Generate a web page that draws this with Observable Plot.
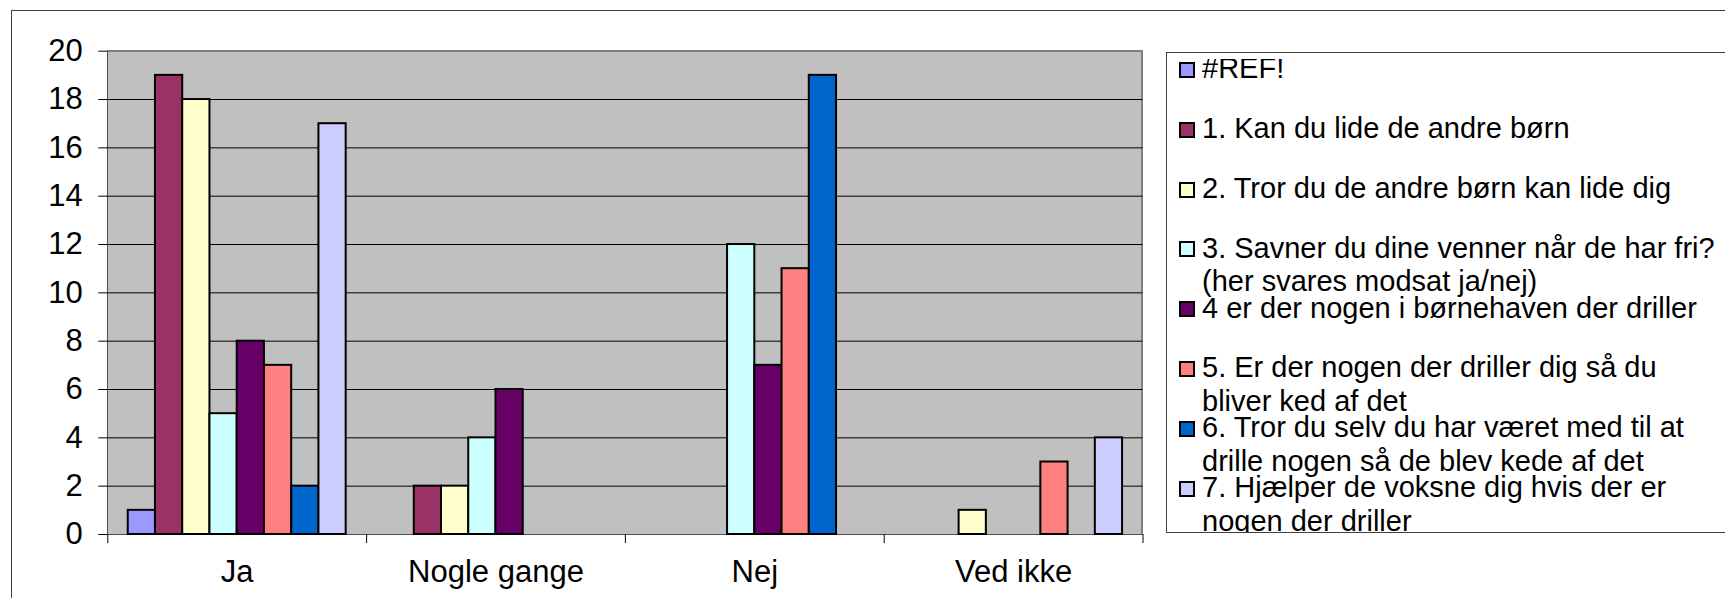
<!DOCTYPE html>
<html>
<head>
<meta charset="utf-8">
<script src="https://cdn.jsdelivr.net/npm/d3@7"></script>
<script src="https://cdn.jsdelivr.net/npm/@observablehq/plot@0.6"></script>
<style>
  html, body { margin: 0; padding: 0; background: #fff; }
  body { width: 1725px; height: 598px; overflow: hidden; position: relative;
         font-family: 'Liberation Sans', Arial, sans-serif; color: #000; }
  #outer { position: absolute; left: 11px; top: 10px; width: 1800px; height: 700px;
           border: 1px solid #404040; }
  #plotbg { position: absolute; background: #c0c0c0; box-sizing: border-box;
            border-top: 2px solid #808080; border-right: 2px solid #808080;
            border-left: 1.5px solid #505050; border-bottom: 1.5px solid #505050; }
  #chart { position: absolute; left: 0; top: 0; }
  #legend { position: absolute; left: 1166px; top: 52px; width: 700px; height: 479px;
            border: 1px solid #404040; background: #fff; }
  #legend .clip { position: absolute; left: 0; right: 0; top: 6px; bottom: 0; overflow: hidden; }
  #legend .items { position: absolute; left: 0; right: 0; top: -7px; }
  #legend .item { position: relative; height: 59.9px; overflow: visible; }
  #legend .sw { position: absolute; left: 12px; top: 9.8px; width: 12px; height: 12px;
                border: 2px solid #000; }
  #legend .tx { position: absolute; left: 35px; top: 0; width: 520px;
                font-size: 29px; line-height: 33.5px; white-space: normal; }
</style>
</head>
<body>
<div id="outer"></div>
<div id="plotbg"></div>
<div id="chart"></div>
<div id="legend"><div class="clip"><div class="items"></div></div></div>
<script>
// ---- data ----
const categories = ["Ja", "Nogle gange", "Nej", "Ved ikke"];
const seriesNames = [
  "#REF!",
  "1. Kan du lide de andre børn",
  "2. Tror du de andre børn kan lide dig",
  "3. Savner du dine venner når de har fri? (her svares modsat ja/nej)",
  "4 er der nogen i børnehaven der driller",
  "5. Er der nogen der driller dig så du bliver ked af det",
  "6. Tror du selv du har været med til at drille nogen så de blev kede af det",
  "7. Hjælper de voksne dig hvis der er nogen der driller"
];
const seriesColors = ["#9999FF", "#993366", "#FFFFCC", "#CCFFFF", "#660066", "#FF8080", "#0066CC", "#CCCCFF"];
const valuesJa          = [1, 19, 18, 5, 8, 7, 2, 17];
const valuesNogleGange  = [null, 2, 2, 4, 6, null, null, null];
const valuesNej         = [null, null, null, 12, 7, 11, 19, null];
const valuesVedIkke     = [null, null, 1, null, null, 3, null, 4];
const yTicks = [0, 2, 4, 6, 8, 10, 12, 14, 16, 18, 20];

// ---- table ----
const valuesByCategory = [valuesJa, valuesNogleGange, valuesNej, valuesVedIkke];
const rows = categories.flatMap((c, ci) =>
  seriesNames.map((s, si) => ({category: c, series: s, value: valuesByCategory[ci][si]}))
).filter(d => d.value != null);

// ---- layout ----
const W = 1160, H = 598, ML = 107.3, MR = 17.5, MT = 50.7, MB = 64;
const fw = (W - ML - MR) / categories.length;     // width of one category band
const bw = fw / (seriesNames.length + 1.5);        // bar width (gap = 150% of a bar)
const lastCat = [categories[categories.length - 1]];

const bg = document.getElementById("plotbg");
bg.style.left = (ML - 0.75) + "px";
bg.style.top = (MT - 1) + "px";
bg.style.width = (W - ML - MR + 1.75) + "px";
bg.style.height = (H - MT - MB + 1.75) + "px";

const tickOpts = {x: d => d, y1: 0, y2: 0, insetBottom: -9, stroke: "#000", strokeWidth: 1};

// one bar mark per series, placed inside the category band with insets
const barMarks = seriesNames.map((s, i) =>
  Plot.barY(rows.filter(d => d.series === s), {
    x: "category", y: "value", fill: "series", stroke: "#000", strokeWidth: 2,
    insetLeft: 0.75 * bw + i * bw,
    insetRight: fw - 0.75 * bw - (i + 1) * bw
  })
);

const plot = Plot.plot({
  width: W, height: H,
  marginLeft: ML, marginRight: MR, marginTop: MT, marginBottom: MB,
  style: {fontFamily: "'Liberation Sans', Arial, sans-serif", background: "transparent", color: "#000", overflow: "visible"},
  x: {domain: categories, padding: 0, round: false, label: null},
  y: {domain: [0, 20], label: null},
  color: {domain: seriesNames, range: seriesColors},
  marks: [
    Plot.gridY(yTicks.slice(1, -1), {stroke: "#000", strokeOpacity: 1, strokeWidth: 1}),
    ...barMarks,
    Plot.ruleX(categories, {...tickOpts, dx: -fw / 2}),
    Plot.ruleX(lastCat, {...tickOpts, dx: fw / 2}),
    Plot.axisY(yTicks, {tickSize: 9, tickPadding: 16, fontSize: 31, label: null}),
    Plot.axisX({anchor: "bottom", tickSize: 0, tickPadding: 25.7, fontSize: 31, label: null})
  ]
});
document.getElementById("chart").append(plot);

// ---- legend ----
const items = d3.select("#legend .items");
seriesNames.forEach((name, i) => {
  const it = items.append("div").attr("class", "item");
  it.append("div").attr("class", "sw").style("background", seriesColors[i]);
  it.append("div").attr("class", "tx").text(name);
});
</script>
</body>
</html>
